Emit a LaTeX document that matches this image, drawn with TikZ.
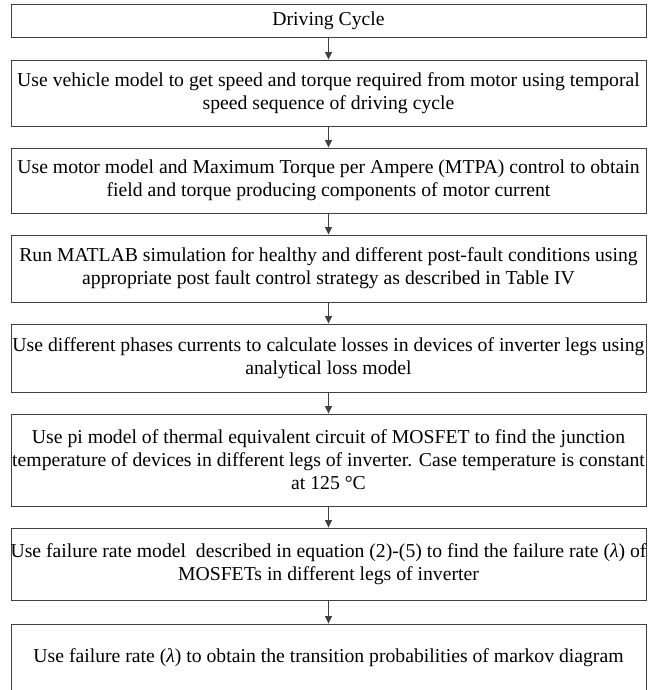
\documentclass[tikz,border=0pt]{standalone}
\usepackage{fontspec}
\setmainfont{Liberation Serif}
\usetikzlibrary{arrows.meta}
\definecolor{boxgray}{HTML}{404040}
\begin{document}
\begin{tikzpicture}[x=1pt,y=-1pt,
  box/.style={draw=boxgray, line width=0.9pt, inner sep=0pt, minimum width=635pt,
    align=center, font=\fontsize{19.7}{23}\selectfont},
  arr/.style={draw=boxgray, line width=0.9pt, -{Triangle[width=7pt,length=7.5pt]}}]
\useasboundingbox (0,0) rectangle (649,690);
\node[box, minimum height=33pt] (b1) at (328.5,21) {Driving Cycle};
\node[box, minimum height=66pt] (b2) at (328.5,93) {Use vehicle model to get speed and torque required from motor using temporal\\speed sequence of driving cycle};
\node[box, minimum height=65.5pt] (b3) at (328.5,180.75) {Use motor model and Maximum Torque per Ampere (MTPA) control to obtain\\field and torque producing components of motor current};
\node[box, minimum height=67pt] (b4) at (328.5,268.5) {Run MATLAB simulation for healthy and different post-fault conditions using\\appropriate post fault control strategy as described in Table IV};
\node[box, minimum height=68pt] (b5) at (328.5,358) {Use different phases currents to calculate losses in devices of inverter legs using\\analytical loss model};
\node[box, minimum height=92pt] (b6) at (328.5,460) {Use pi model of thermal equivalent circuit of MOSFET to find the junction\\temperature of devices in different legs of inverter. Case temperature is constant\\at 125 °C};
\node[box, minimum height=72pt] (b7) at (328.5,564) {\makebox[634pt]{Use failure rate model\ \ described in equation (2)-(5) to find the failure rate (\textit{λ}) of}\\MOSFETs in different legs of inverter};
\node[box, minimum height=68pt] (b8) at (328.5,658) {Use failure rate (\textit{λ}) to obtain the transition probabilities of markov diagram};
\draw[arr] (b1) -- (b2);
\draw[arr] (b2) -- (b3);
\draw[arr] (b3) -- (b4);
\draw[arr] (b4) -- (b5);
\draw[arr] (b5) -- (b6);
\draw[arr] (b6) -- (b7);
\draw[arr] (b7) -- (b8);
\end{tikzpicture}
\end{document}
